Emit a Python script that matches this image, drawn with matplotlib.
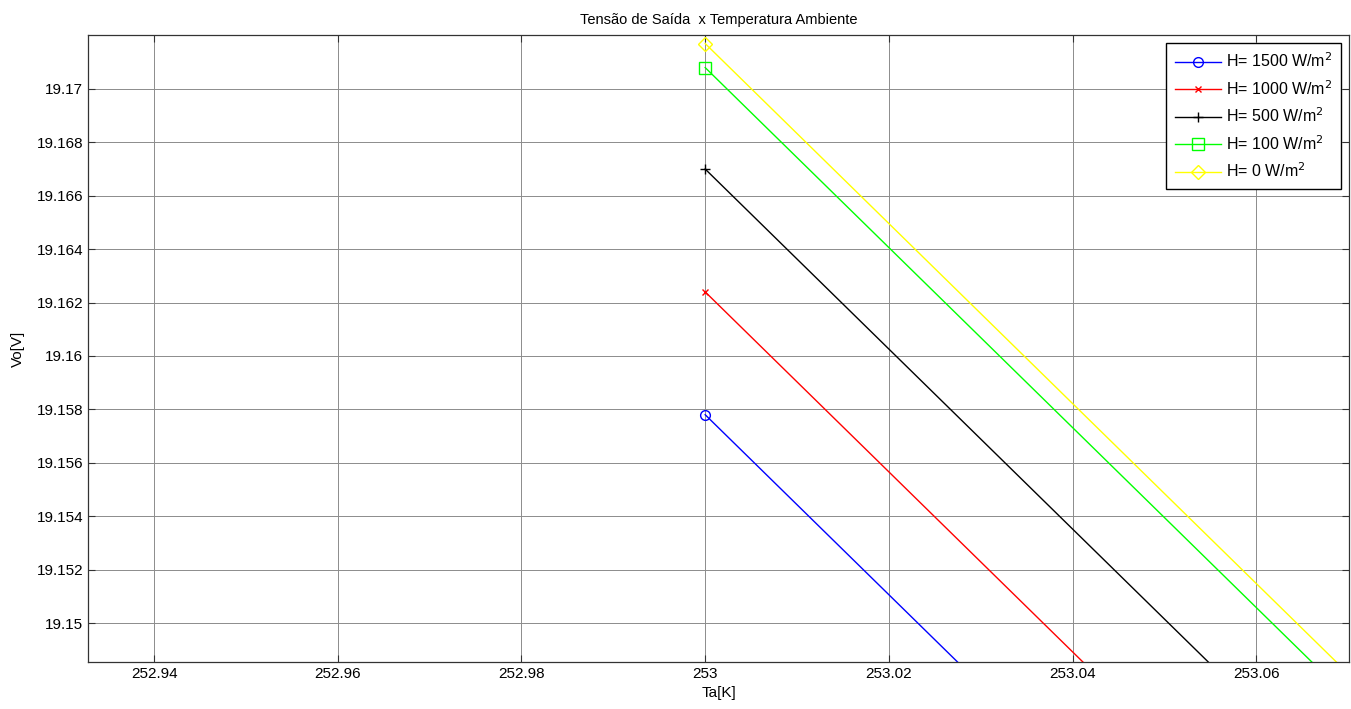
import matplotlib
matplotlib.use("Agg")
import matplotlib.pyplot as plt

plt.rcParams['font.family'] = ['Liberation Sans', 'DejaVu Sans']

# ambient temperature [K] and output voltage [V] for each irradiance level
ta = [253.0, 253.1]
vo_1500 = [19.1578, 19.1241]
vo_1000 = [19.1624, 19.1287]
vo_500 = [19.1670, 19.1333]
vo_100 = [19.1708, 19.1371]
vo_0 = [19.1717, 19.1380]

labels = ['H= 1500 W/m$^2$', 'H= 1000 W/m$^2$', 'H= 500 W/m$^2$',
          'H= 100 W/m$^2$', 'H= 0 W/m$^2$']
series = [vo_1500, vo_1000, vo_500, vo_100, vo_0]
colors = ['#0000ff', '#ff0000', '#000000', '#00ff00', '#ffff00']
markers = ['o', 'x', '+', 's', 'D']
msizes = [7, 4, 7, 8, 7]

xticks = [252.94, 252.96, 252.98, 253.0, 253.02, 253.04, 253.06]
xticklabels = ['252.94', '252.96', '252.98', '253', '253.02', '253.04', '253.06']
yticks = [19.15, 19.152, 19.154, 19.156, 19.158, 19.16, 19.162, 19.164,
          19.166, 19.168, 19.17]
yticklabels = ['19.15', '19.152', '19.154', '19.156', '19.158', '19.16',
               '19.162', '19.164', '19.166', '19.168', '19.17']

fig = plt.figure(figsize=(13.51, 7.09), dpi=100)
ax = fig.add_axes([88 / 1351, 1 - 662 / 709, (1349 - 88) / 1351, (662 - 35) / 709])

for y, c, m, ms, lbl in zip(series, colors, markers, msizes, labels):
    ax.plot(ta, y, color=c, lw=1.0, marker=m, ms=ms, mfc='none', mec=c,
            mew=1.0, markevery=[0], label=lbl)

ax.set_xlim(252.9328, 253.0701)
ax.set_ylim(19.14854, 19.17202)
ax.set_xticks(xticks)
ax.set_xticklabels(xticklabels)
ax.set_yticks(yticks)
ax.set_yticklabels(yticklabels)
ax.tick_params(direction='in', top=True, right=True, labelsize=11,
               length=5, width=0.8, color='#333333')
ax.grid(True, color='#8c8c8c', lw=0.7)
for s in ax.spines.values():
    s.set_linewidth(0.9)
    s.set_color('#333333')

ax.set_xlabel('Ta[K]', fontsize=11, labelpad=4)
ax.set_ylabel('Vo[V]', fontsize=11, labelpad=8)
ax.set_title('Tensão de Saída  x Temperatura Ambiente', fontsize=10.5, pad=8)

leg = ax.legend(loc='upper right', fontsize=11.5, fancybox=False, framealpha=1,
                edgecolor='black', handlelength=2.9, borderaxespad=0.5,
                handletextpad=0.3, labelspacing=0.55, borderpad=0.55)
leg.get_frame().set_linewidth(1.0)

fig.savefig('out.png', dpi=100)
